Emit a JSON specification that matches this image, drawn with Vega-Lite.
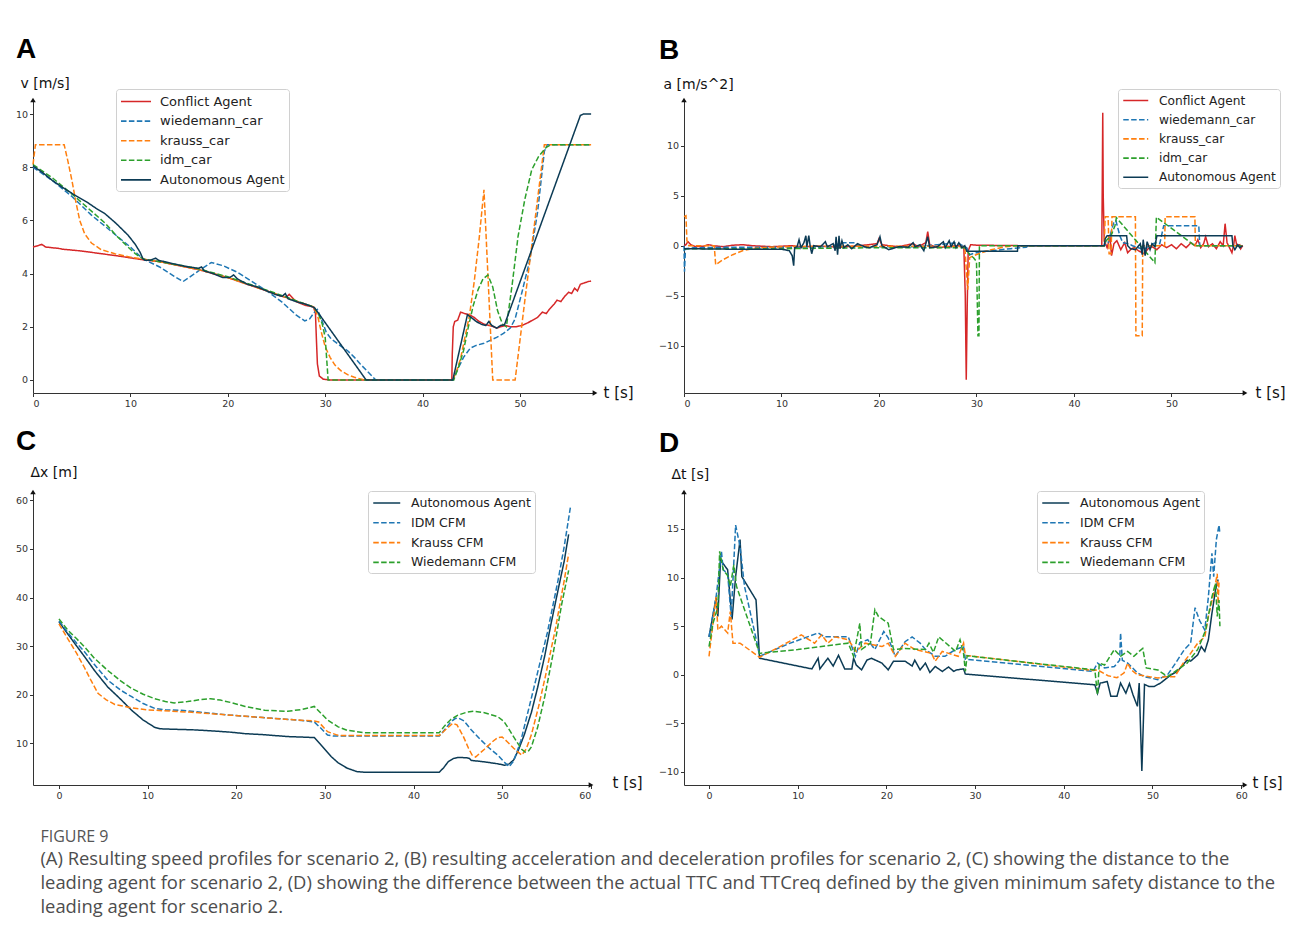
{
"$schema": "https://vega.github.io/schema/vega-lite/v6.json",
"background": "white",
"padding": {"left": 15, "top": 36, "right": 8, "bottom": 8},
"config": {
  "view": {"stroke": null},
  "font": "DejaVu Sans",
  "axis": {"grid": false, "domainColor": "#333", "domainWidth": 1, "tickColor": "#333", "tickSize": 3.5, "labelColor": "#333", "labelFont": "DejaVu Sans", "labelFontSize": 9.5, "labelPadding": 2, "titleFont": "DejaVu Sans", "titleFontWeight": "normal", "titleFontSize": 14, "titleColor": "#111"},
  "legend": {"title": null, "orient": "none", "symbolType": "M-1,0H3", "symbolSize": 225, "symbolStrokeWidth": 1.6, "labelFont": "DejaVu Sans", "labelFontSize": 13, "labelColor": "#222", "fillColor": "white", "strokeColor": "#d0d0d0", "cornerRadius": 3, "padding": 4, "rowPadding": 3.6, "labelOffset": 23}
},
"datasets": {
"A": [
{"s":"Conflict Agent","t":0,"v":5.0},{"s":"Conflict Agent","t":0.5,"v":5.05},{"s":"Conflict Agent","t":0.9,"v":5.1},{"s":"Conflict Agent","t":1.3,"v":5.0},{"s":"Conflict Agent","t":2.6,"v":4.95},{"s":"Conflict Agent","t":3,"v":4.92},{"s":"Conflict Agent","t":5,"v":4.85},{"s":"Conflict Agent","t":7,"v":4.75},{"s":"Conflict Agent","t":9,"v":4.65},{"s":"Conflict Agent","t":11.3,"v":4.52},{"s":"Conflict Agent","t":13,"v":4.45},{"s":"Conflict Agent","t":15,"v":4.3},{"s":"Conflict Agent","t":17,"v":4.15},{"s":"Conflict Agent","t":18,"v":4.05},{"s":"Conflict Agent","t":20,"v":3.85},{"s":"Conflict Agent","t":22,"v":3.6},{"s":"Conflict Agent","t":24,"v":3.35},{"s":"Conflict Agent","t":25.5,"v":3.15},{"s":"Conflict Agent","t":26,"v":3.1},{"s":"Conflict Agent","t":26.3,"v":3.22},{"s":"Conflict Agent","t":27,"v":2.95},{"s":"Conflict Agent","t":28,"v":2.8},{"s":"Conflict Agent","t":28.8,"v":2.75},{"s":"Conflict Agent","t":29,"v":2.5},{"s":"Conflict Agent","t":29.1,"v":1.5},{"s":"Conflict Agent","t":29.2,"v":0.6},{"s":"Conflict Agent","t":29.4,"v":0.15},{"s":"Conflict Agent","t":29.8,"v":0.03},{"s":"Conflict Agent","t":30.5,"v":0},{"s":"Conflict Agent","t":43,"v":0},{"s":"Conflict Agent","t":43.05,"v":1.0},{"s":"Conflict Agent","t":43.15,"v":2.0},{"s":"Conflict Agent","t":43.3,"v":2.2},{"s":"Conflict Agent","t":43.6,"v":2.25},{"s":"Conflict Agent","t":43.9,"v":2.55},{"s":"Conflict Agent","t":44.3,"v":2.5},{"s":"Conflict Agent","t":44.8,"v":2.45},{"s":"Conflict Agent","t":45.3,"v":2.35},{"s":"Conflict Agent","t":45.8,"v":2.2},{"s":"Conflict Agent","t":46.3,"v":2.1},{"s":"Conflict Agent","t":46.8,"v":2.05},{"s":"Conflict Agent","t":47.3,"v":2.0},{"s":"Conflict Agent","t":47.6,"v":1.95},{"s":"Conflict Agent","t":48,"v":2.0},{"s":"Conflict Agent","t":48.5,"v":2.05},{"s":"Conflict Agent","t":49,"v":2.0},{"s":"Conflict Agent","t":49.6,"v":2.0},{"s":"Conflict Agent","t":50.2,"v":2.05},{"s":"Conflict Agent","t":50.8,"v":2.15},{"s":"Conflict Agent","t":51.3,"v":2.25},{"s":"Conflict Agent","t":51.8,"v":2.35},{"s":"Conflict Agent","t":52.3,"v":2.55},{"s":"Conflict Agent","t":52.7,"v":2.5},{"s":"Conflict Agent","t":53,"v":2.65},{"s":"Conflict Agent","t":53.5,"v":2.85},{"s":"Conflict Agent","t":53.8,"v":3.0},{"s":"Conflict Agent","t":54.2,"v":2.95},{"s":"Conflict Agent","t":54.6,"v":3.15},{"s":"Conflict Agent","t":55,"v":3.3},{"s":"Conflict Agent","t":55.3,"v":3.25},{"s":"Conflict Agent","t":55.6,"v":3.45},{"s":"Conflict Agent","t":55.9,"v":3.35},{"s":"Conflict Agent","t":56.2,"v":3.6},{"s":"Conflict Agent","t":56.6,"v":3.65},{"s":"Conflict Agent","t":57,"v":3.7},{"s":"Conflict Agent","t":57.3,"v":3.72},
{"s":"wiedemann_car","t":0,"v":8.0},{"s":"wiedemann_car","t":2,"v":7.5},{"s":"wiedemann_car","t":4,"v":6.9},{"s":"wiedemann_car","t":6,"v":6.2},{"s":"wiedemann_car","t":8,"v":5.6},{"s":"wiedemann_car","t":10,"v":5.0},{"s":"wiedemann_car","t":11.3,"v":4.55},{"s":"wiedemann_car","t":13,"v":4.25},{"s":"wiedemann_car","t":14.5,"v":3.9},{"s":"wiedemann_car","t":15.4,"v":3.7},{"s":"wiedemann_car","t":17,"v":4.1},{"s":"wiedemann_car","t":18.3,"v":4.42},{"s":"wiedemann_car","t":19.5,"v":4.3},{"s":"wiedemann_car","t":21,"v":4.05},{"s":"wiedemann_car","t":22.5,"v":3.7},{"s":"wiedemann_car","t":24,"v":3.35},{"s":"wiedemann_car","t":25.5,"v":2.95},{"s":"wiedemann_car","t":27,"v":2.45},{"s":"wiedemann_car","t":27.9,"v":2.22},{"s":"wiedemann_car","t":28.4,"v":2.3},{"s":"wiedemann_car","t":28.9,"v":2.55},{"s":"wiedemann_car","t":29.2,"v":2.65},{"s":"wiedemann_car","t":29.6,"v":2.3},{"s":"wiedemann_car","t":30.1,"v":1.8},{"s":"wiedemann_car","t":30.6,"v":1.55},{"s":"wiedemann_car","t":31.5,"v":1.3},{"s":"wiedemann_car","t":32.3,"v":1.1},{"s":"wiedemann_car","t":33,"v":0.85},{"s":"wiedemann_car","t":33.6,"v":0.6},{"s":"wiedemann_car","t":34.4,"v":0.3},{"s":"wiedemann_car","t":35.2,"v":0},{"s":"wiedemann_car","t":43.1,"v":0},{"s":"wiedemann_car","t":43.6,"v":0.4},{"s":"wiedemann_car","t":44.2,"v":0.85},{"s":"wiedemann_car","t":44.9,"v":1.2},{"s":"wiedemann_car","t":45.5,"v":1.3},{"s":"wiedemann_car","t":46.3,"v":1.38},{"s":"wiedemann_car","t":47,"v":1.5},{"s":"wiedemann_car","t":47.6,"v":1.6},{"s":"wiedemann_car","t":48.3,"v":1.75},{"s":"wiedemann_car","t":49,"v":1.95},{"s":"wiedemann_car","t":49.5,"v":2.3},{"s":"wiedemann_car","t":50.2,"v":3.3},{"s":"wiedemann_car","t":51,"v":4.5},{"s":"wiedemann_car","t":51.8,"v":6.3},{"s":"wiedemann_car","t":52.5,"v":8.6},{"s":"wiedemann_car","t":52.8,"v":8.85},{"s":"wiedemann_car","t":57.3,"v":8.85},
{"s":"krauss_car","t":0,"v":8.1},{"s":"krauss_car","t":0.25,"v":8.85},{"s":"krauss_car","t":3.2,"v":8.85},{"s":"krauss_car","t":3.6,"v":8.2},{"s":"krauss_car","t":4,"v":7.5},{"s":"krauss_car","t":4.4,"v":6.7},{"s":"krauss_car","t":4.8,"v":6.0},{"s":"krauss_car","t":5.3,"v":5.5},{"s":"krauss_car","t":6,"v":5.15},{"s":"krauss_car","t":7,"v":4.9},{"s":"krauss_car","t":8.4,"v":4.75},{"s":"krauss_car","t":10,"v":4.62},{"s":"krauss_car","t":11.3,"v":4.55},{"s":"krauss_car","t":13,"v":4.45},{"s":"krauss_car","t":15,"v":4.3},{"s":"krauss_car","t":17,"v":4.15},{"s":"krauss_car","t":18,"v":4.05},{"s":"krauss_car","t":20,"v":3.85},{"s":"krauss_car","t":22,"v":3.6},{"s":"krauss_car","t":24,"v":3.35},{"s":"krauss_car","t":26,"v":3.1},{"s":"krauss_car","t":28,"v":2.85},{"s":"krauss_car","t":28.8,"v":2.75},{"s":"krauss_car","t":29.2,"v":2.45},{"s":"krauss_car","t":29.6,"v":1.8},{"s":"krauss_car","t":30,"v":1.25},{"s":"krauss_car","t":30.5,"v":0.85},{"s":"krauss_car","t":31,"v":0.56},{"s":"krauss_car","t":31.6,"v":0.35},{"s":"krauss_car","t":32.3,"v":0.2},{"s":"krauss_car","t":33,"v":0.1},{"s":"krauss_car","t":34,"v":0},{"s":"krauss_car","t":43.1,"v":0},{"s":"krauss_car","t":43.5,"v":0.35},{"s":"krauss_car","t":43.9,"v":0.8},{"s":"krauss_car","t":44.4,"v":1.7},{"s":"krauss_car","t":44.8,"v":2.4},{"s":"krauss_car","t":45.3,"v":3.7},{"s":"krauss_car","t":45.8,"v":5.3},{"s":"krauss_car","t":46.3,"v":7.15},{"s":"krauss_car","t":46.75,"v":3.6},{"s":"krauss_car","t":47.2,"v":0},{"s":"krauss_car","t":49.5,"v":0},{"s":"krauss_car","t":50.5,"v":3.0},{"s":"krauss_car","t":51.5,"v":5.9},{"s":"krauss_car","t":52.5,"v":8.85},{"s":"krauss_car","t":57.3,"v":8.85},
{"s":"idm_car","t":0,"v":8.1},{"s":"idm_car","t":2,"v":7.6},{"s":"idm_car","t":4.3,"v":6.9},{"s":"idm_car","t":6,"v":6.35},{"s":"idm_car","t":7.4,"v":5.9},{"s":"idm_car","t":8.5,"v":5.45},{"s":"idm_car","t":9.75,"v":5.0},{"s":"idm_car","t":10.5,"v":4.75},{"s":"idm_car","t":11.3,"v":4.55},{"s":"idm_car","t":13,"v":4.45},{"s":"idm_car","t":15,"v":4.32},{"s":"idm_car","t":17,"v":4.18},{"s":"idm_car","t":18,"v":4.08},{"s":"idm_car","t":20,"v":3.88},{"s":"idm_car","t":22,"v":3.63},{"s":"idm_car","t":24,"v":3.38},{"s":"idm_car","t":26,"v":3.12},{"s":"idm_car","t":28,"v":2.85},{"s":"idm_car","t":28.8,"v":2.75},{"s":"idm_car","t":29.3,"v":2.5},{"s":"idm_car","t":29.7,"v":2.1},{"s":"idm_car","t":30,"v":1.6},{"s":"idm_car","t":30.15,"v":0.8},{"s":"idm_car","t":30.3,"v":0},{"s":"idm_car","t":43.2,"v":0},{"s":"idm_car","t":43.7,"v":0.5},{"s":"idm_car","t":44.2,"v":1.1},{"s":"idm_car","t":44.7,"v":2.0},{"s":"idm_car","t":45.2,"v":2.8},{"s":"idm_car","t":45.7,"v":3.4},{"s":"idm_car","t":46.2,"v":3.8},{"s":"idm_car","t":46.7,"v":3.95},{"s":"idm_car","t":47.2,"v":3.5},{"s":"idm_car","t":47.7,"v":2.6},{"s":"idm_car","t":48.2,"v":2.1},{"s":"idm_car","t":48.6,"v":2.0},{"s":"idm_car","t":49.2,"v":3.6},{"s":"idm_car","t":49.8,"v":5.4},{"s":"idm_car","t":50.5,"v":6.8},{"s":"idm_car","t":51.2,"v":7.9},{"s":"idm_car","t":51.9,"v":8.4},{"s":"idm_car","t":52.7,"v":8.75},{"s":"idm_car","t":53.2,"v":8.85},{"s":"idm_car","t":57.3,"v":8.85},
{"s":"Autonomous Agent","t":0,"v":8.05},{"s":"Autonomous Agent","t":1,"v":7.8},{"s":"Autonomous Agent","t":2,"v":7.5},{"s":"Autonomous Agent","t":3,"v":7.25},{"s":"Autonomous Agent","t":4.3,"v":6.95},{"s":"Autonomous Agent","t":5.5,"v":6.7},{"s":"Autonomous Agent","t":6.5,"v":6.45},{"s":"Autonomous Agent","t":7.4,"v":6.25},{"s":"Autonomous Agent","t":8.5,"v":5.9},{"s":"Autonomous Agent","t":9.75,"v":5.45},{"s":"Autonomous Agent","t":10.5,"v":5.1},{"s":"Autonomous Agent","t":11,"v":4.8},{"s":"Autonomous Agent","t":11.3,"v":4.55},{"s":"Autonomous Agent","t":11.5,"v":4.5},{"s":"Autonomous Agent","t":12,"v":4.5},{"s":"Autonomous Agent","t":12.6,"v":4.58},{"s":"Autonomous Agent","t":12.9,"v":4.5},{"s":"Autonomous Agent","t":13.5,"v":4.45},{"s":"Autonomous Agent","t":15,"v":4.32},{"s":"Autonomous Agent","t":16,"v":4.25},{"s":"Autonomous Agent","t":17,"v":4.2},{"s":"Autonomous Agent","t":17.3,"v":4.25},{"s":"Autonomous Agent","t":17.6,"v":4.1},{"s":"Autonomous Agent","t":18.5,"v":4.0},{"s":"Autonomous Agent","t":19.5,"v":3.85},{"s":"Autonomous Agent","t":20.2,"v":3.85},{"s":"Autonomous Agent","t":20.6,"v":3.95},{"s":"Autonomous Agent","t":21,"v":3.8},{"s":"Autonomous Agent","t":22,"v":3.6},{"s":"Autonomous Agent","t":23,"v":3.5},{"s":"Autonomous Agent","t":24,"v":3.35},{"s":"Autonomous Agent","t":25,"v":3.2},{"s":"Autonomous Agent","t":25.6,"v":3.15},{"s":"Autonomous Agent","t":25.9,"v":3.25},{"s":"Autonomous Agent","t":26.2,"v":3.05},{"s":"Autonomous Agent","t":27,"v":2.95},{"s":"Autonomous Agent","t":28,"v":2.85},{"s":"Autonomous Agent","t":28.9,"v":2.72},{"s":"Autonomous Agent","t":34.2,"v":0},{"s":"Autonomous Agent","t":43.1,"v":0},{"s":"Autonomous Agent","t":44.6,"v":2.45},{"s":"Autonomous Agent","t":45,"v":2.35},{"s":"Autonomous Agent","t":45.5,"v":2.2},{"s":"Autonomous Agent","t":46,"v":2.1},{"s":"Autonomous Agent","t":46.5,"v":2.05},{"s":"Autonomous Agent","t":46.8,"v":2.2},{"s":"Autonomous Agent","t":47.1,"v":2.05},{"s":"Autonomous Agent","t":47.6,"v":1.95},{"s":"Autonomous Agent","t":48,"v":2.05},{"s":"Autonomous Agent","t":48.4,"v":2.07},{"s":"Autonomous Agent","t":56.2,"v":9.95},{"s":"Autonomous Agent","t":56.5,"v":10.0},{"s":"Autonomous Agent","t":57.3,"v":10.0}
],
"B": [
{"s":"Conflict Agent","t":0,"a":0},{"s":"Conflict Agent","t":0.2,"a":0.1},{"s":"Conflict Agent","t":0.4,"a":0.4},{"s":"Conflict Agent","t":0.7,"a":0.1},{"s":"Conflict Agent","t":1.2,"a":-0.1},{"s":"Conflict Agent","t":2,"a":-0.05},{"s":"Conflict Agent","t":2.5,"a":0.1},{"s":"Conflict Agent","t":3,"a":0},{"s":"Conflict Agent","t":4,"a":-0.1},{"s":"Conflict Agent","t":5,"a":0.05},{"s":"Conflict Agent","t":6,"a":0.1},{"s":"Conflict Agent","t":7,"a":0},{"s":"Conflict Agent","t":8,"a":-0.05},{"s":"Conflict Agent","t":9,"a":-0.1},{"s":"Conflict Agent","t":11,"a":0},{"s":"Conflict Agent","t":12,"a":-0.1},{"s":"Conflict Agent","t":14,"a":-0.05},{"s":"Conflict Agent","t":16,"a":-0.15},{"s":"Conflict Agent","t":18,"a":0},{"s":"Conflict Agent","t":19.8,"a":0.2},{"s":"Conflict Agent","t":20,"a":0.7},{"s":"Conflict Agent","t":20.3,"a":0.1},{"s":"Conflict Agent","t":21,"a":0},{"s":"Conflict Agent","t":22,"a":-0.1},{"s":"Conflict Agent","t":23.5,"a":0.2},{"s":"Conflict Agent","t":24,"a":-0.1},{"s":"Conflict Agent","t":24.8,"a":0.3},{"s":"Conflict Agent","t":25,"a":1.4},{"s":"Conflict Agent","t":25.2,"a":0.1},{"s":"Conflict Agent","t":26,"a":-0.2},{"s":"Conflict Agent","t":27,"a":-0.1},{"s":"Conflict Agent","t":28,"a":0},{"s":"Conflict Agent","t":28.7,"a":-0.1},{"s":"Conflict Agent","t":28.85,"a":-5},{"s":"Conflict Agent","t":28.95,"a":-13.4},{"s":"Conflict Agent","t":29.05,"a":-6},{"s":"Conflict Agent","t":29.15,"a":-0.5},{"s":"Conflict Agent","t":29.4,"a":0.1},{"s":"Conflict Agent","t":30,"a":0.05},{"s":"Conflict Agent","t":35,"a":0},{"s":"Conflict Agent","t":42.85,"a":0},{"s":"Conflict Agent","t":42.9,"a":6},{"s":"Conflict Agent","t":42.95,"a":13.3},{"s":"Conflict Agent","t":43.0,"a":5},{"s":"Conflict Agent","t":43.1,"a":0.5},{"s":"Conflict Agent","t":43.4,"a":-0.2},{"s":"Conflict Agent","t":43.7,"a":0.9},{"s":"Conflict Agent","t":43.85,"a":-1.0},{"s":"Conflict Agent","t":44.1,"a":0.2},{"s":"Conflict Agent","t":44.4,"a":0.5},{"s":"Conflict Agent","t":44.8,"a":-0.4},{"s":"Conflict Agent","t":45.2,"a":0.3},{"s":"Conflict Agent","t":45.5,"a":-0.7},{"s":"Conflict Agent","t":45.9,"a":-0.3},{"s":"Conflict Agent","t":46.2,"a":-0.2},{"s":"Conflict Agent","t":46.6,"a":-0.5},{"s":"Conflict Agent","t":47.2,"a":-0.8},{"s":"Conflict Agent","t":47.6,"a":-0.3},{"s":"Conflict Agent","t":48,"a":-0.1},{"s":"Conflict Agent","t":48.5,"a":-0.4},{"s":"Conflict Agent","t":49,"a":0.1},{"s":"Conflict Agent","t":49.5,"a":-0.2},{"s":"Conflict Agent","t":50,"a":0.1},{"s":"Conflict Agent","t":50.5,"a":-0.3},{"s":"Conflict Agent","t":51,"a":0.2},{"s":"Conflict Agent","t":51.5,"a":-0.2},{"s":"Conflict Agent","t":52,"a":0.3},{"s":"Conflict Agent","t":52.4,"a":0},{"s":"Conflict Agent","t":52.7,"a":0.6},{"s":"Conflict Agent","t":53,"a":-0.2},{"s":"Conflict Agent","t":53.3,"a":0.2},{"s":"Conflict Agent","t":53.5,"a":0.9},{"s":"Conflict Agent","t":53.8,"a":-0.1},{"s":"Conflict Agent","t":54.2,"a":0.2},{"s":"Conflict Agent","t":54.6,"a":-0.3},{"s":"Conflict Agent","t":55,"a":0.4},{"s":"Conflict Agent","t":55.3,"a":0},{"s":"Conflict Agent","t":55.5,"a":2.2},{"s":"Conflict Agent","t":55.7,"a":0.3},{"s":"Conflict Agent","t":56,"a":-0.3},{"s":"Conflict Agent","t":56.2,"a":-0.7},{"s":"Conflict Agent","t":56.4,"a":0.2},{"s":"Conflict Agent","t":56.5,"a":1.0},{"s":"Conflict Agent","t":56.7,"a":0},{"s":"Conflict Agent","t":57,"a":0.1},{"s":"Conflict Agent","t":57.1,"a":-0.3},{"s":"Conflict Agent","t":57.3,"a":0},
{"s":"wiedemann_car","t":0,"a":0},{"s":"wiedemann_car","t":0.05,"a":-2.6},{"s":"wiedemann_car","t":0.15,"a":-0.3},{"s":"wiedemann_car","t":1,"a":-0.2},{"s":"wiedemann_car","t":5,"a":-0.15},{"s":"wiedemann_car","t":11.5,"a":-0.15},{"s":"wiedemann_car","t":15,"a":-0.1},{"s":"wiedemann_car","t":16.2,"a":0.3},{"s":"wiedemann_car","t":17.5,"a":0.3},{"s":"wiedemann_car","t":18,"a":-0.1},{"s":"wiedemann_car","t":24,"a":-0.1},{"s":"wiedemann_car","t":28,"a":0.3},{"s":"wiedemann_car","t":29,"a":-0.2},{"s":"wiedemann_car","t":29.3,"a":-0.9},{"s":"wiedemann_car","t":29.6,"a":-0.8},{"s":"wiedemann_car","t":30.5,"a":-0.6},{"s":"wiedemann_car","t":32,"a":-0.45},{"s":"wiedemann_car","t":33.5,"a":-0.3},{"s":"wiedemann_car","t":35.1,"a":-0.15},{"s":"wiedemann_car","t":35.3,"a":0},{"s":"wiedemann_car","t":43.1,"a":0},{"s":"wiedemann_car","t":43.5,"a":0.3},{"s":"wiedemann_car","t":44.1,"a":2.4},{"s":"wiedemann_car","t":44.3,"a":2.5},{"s":"wiedemann_car","t":44.7,"a":1.0},{"s":"wiedemann_car","t":45,"a":0.3},{"s":"wiedemann_car","t":45.6,"a":0.2},{"s":"wiedemann_car","t":46,"a":0},{"s":"wiedemann_car","t":46.6,"a":-0.2},{"s":"wiedemann_car","t":47.2,"a":-0.4},{"s":"wiedemann_car","t":47.8,"a":0.1},{"s":"wiedemann_car","t":48.4,"a":0.3},{"s":"wiedemann_car","t":48.8,"a":0.2},{"s":"wiedemann_car","t":49.2,"a":2.0},{"s":"wiedemann_car","t":52.8,"a":2.0},{"s":"wiedemann_car","t":52.9,"a":0},{"s":"wiedemann_car","t":57.3,"a":0},
{"s":"krauss_car","t":0,"a":2.9},{"s":"krauss_car","t":0.2,"a":3.0},{"s":"krauss_car","t":0.3,"a":0.5},{"s":"krauss_car","t":0.5,"a":0},{"s":"krauss_car","t":3.1,"a":0},{"s":"krauss_car","t":3.25,"a":-1.9},{"s":"krauss_car","t":4,"a":-1.4},{"s":"krauss_car","t":5,"a":-0.9},{"s":"krauss_car","t":6,"a":-0.5},{"s":"krauss_car","t":7,"a":-0.3},{"s":"krauss_car","t":8,"a":-0.2},{"s":"krauss_car","t":10,"a":-0.1},{"s":"krauss_car","t":15,"a":-0.05},{"s":"krauss_car","t":25,"a":-0.05},{"s":"krauss_car","t":28.8,"a":-0.1},{"s":"krauss_car","t":29.1,"a":-4.4},{"s":"krauss_car","t":29.3,"a":-1.2},{"s":"krauss_car","t":29.7,"a":-1.0},{"s":"krauss_car","t":30.5,"a":-0.7},{"s":"krauss_car","t":31.5,"a":-0.4},{"s":"krauss_car","t":33,"a":-0.1},{"s":"krauss_car","t":34,"a":0},{"s":"krauss_car","t":43.1,"a":0},{"s":"krauss_car","t":43.2,"a":2.9},{"s":"krauss_car","t":43.5,"a":2.9},{"s":"krauss_car","t":43.6,"a":-0.8},{"s":"krauss_car","t":43.8,"a":-0.8},{"s":"krauss_car","t":43.9,"a":2.9},{"s":"krauss_car","t":46.3,"a":2.9},{"s":"krauss_car","t":46.35,"a":-9.0},{"s":"krauss_car","t":47.0,"a":-9.0},{"s":"krauss_car","t":47.05,"a":0},{"s":"krauss_car","t":49.3,"a":0},{"s":"krauss_car","t":49.35,"a":2.9},{"s":"krauss_car","t":52.4,"a":2.9},{"s":"krauss_car","t":52.45,"a":0},{"s":"krauss_car","t":57.3,"a":0},
{"s":"idm_car","t":0,"a":-0.3},{"s":"idm_car","t":10,"a":-0.3},{"s":"idm_car","t":15,"a":-0.25},{"s":"idm_car","t":20,"a":-0.2},{"s":"idm_car","t":28.8,"a":-0.2},{"s":"idm_car","t":29.3,"a":-0.9},{"s":"idm_car","t":29.7,"a":-1.2},{"s":"idm_car","t":30,"a":-1.6},{"s":"idm_car","t":30.15,"a":-9.0},{"s":"idm_car","t":30.25,"a":-9.0},{"s":"idm_car","t":30.3,"a":0},{"s":"idm_car","t":43.1,"a":0},{"s":"idm_car","t":43.3,"a":0.5},{"s":"idm_car","t":43.8,"a":1.0},{"s":"idm_car","t":44.2,"a":2.0},{"s":"idm_car","t":44.35,"a":2.8},{"s":"idm_car","t":48.3,"a":-1.7},{"s":"idm_car","t":48.45,"a":2.85},{"s":"idm_car","t":52.4,"a":0},{"s":"idm_car","t":57.3,"a":0},
{"s":"Autonomous Agent","t":0,"a":-0.3},{"s":"Autonomous Agent","t":5,"a":-0.35},{"s":"Autonomous Agent","t":10,"a":-0.35},{"s":"Autonomous Agent","t":10.8,"a":-0.5},{"s":"Autonomous Agent","t":11.1,"a":-1.0},{"s":"Autonomous Agent","t":11.25,"a":-2.0},{"s":"Autonomous Agent","t":11.35,"a":-0.2},{"s":"Autonomous Agent","t":11.6,"a":-0.1},{"s":"Autonomous Agent","t":11.8,"a":0.6},{"s":"Autonomous Agent","t":12,"a":-0.2},{"s":"Autonomous Agent","t":12.3,"a":0.3},{"s":"Autonomous Agent","t":12.5,"a":1.0},{"s":"Autonomous Agent","t":12.6,"a":-0.1},{"s":"Autonomous Agent","t":12.8,"a":1.0},{"s":"Autonomous Agent","t":12.95,"a":-0.1},{"s":"Autonomous Agent","t":13.1,"a":-0.8},{"s":"Autonomous Agent","t":13.3,"a":0},{"s":"Autonomous Agent","t":14,"a":-0.1},{"s":"Autonomous Agent","t":14.5,"a":0.4},{"s":"Autonomous Agent","t":14.7,"a":-0.1},{"s":"Autonomous Agent","t":15.3,"a":0.2},{"s":"Autonomous Agent","t":15.5,"a":-0.5},{"s":"Autonomous Agent","t":15.6,"a":0.9},{"s":"Autonomous Agent","t":15.75,"a":-0.9},{"s":"Autonomous Agent","t":15.9,"a":1.0},{"s":"Autonomous Agent","t":16,"a":-0.3},{"s":"Autonomous Agent","t":16.2,"a":0.5},{"s":"Autonomous Agent","t":16.4,"a":-0.2},{"s":"Autonomous Agent","t":16.8,"a":0.1},{"s":"Autonomous Agent","t":17.2,"a":-0.3},{"s":"Autonomous Agent","t":17.8,"a":0.2},{"s":"Autonomous Agent","t":18.5,"a":-0.1},{"s":"Autonomous Agent","t":19,"a":-0.2},{"s":"Autonomous Agent","t":19.8,"a":0.1},{"s":"Autonomous Agent","t":20.1,"a":0.9},{"s":"Autonomous Agent","t":20.3,"a":0},{"s":"Autonomous Agent","t":21,"a":-0.4},{"s":"Autonomous Agent","t":22,"a":-0.1},{"s":"Autonomous Agent","t":23,"a":-0.15},{"s":"Autonomous Agent","t":23.5,"a":0.3},{"s":"Autonomous Agent","t":23.7,"a":-0.1},{"s":"Autonomous Agent","t":24.2,"a":0.1},{"s":"Autonomous Agent","t":24.6,"a":-0.5},{"s":"Autonomous Agent","t":25,"a":0.9},{"s":"Autonomous Agent","t":25.2,"a":-0.2},{"s":"Autonomous Agent","t":26,"a":-0.1},{"s":"Autonomous Agent","t":26.6,"a":0.4},{"s":"Autonomous Agent","t":26.8,"a":-0.2},{"s":"Autonomous Agent","t":27.2,"a":0.5},{"s":"Autonomous Agent","t":27.4,"a":-0.1},{"s":"Autonomous Agent","t":27.7,"a":0.4},{"s":"Autonomous Agent","t":27.9,"a":-0.2},{"s":"Autonomous Agent","t":28.2,"a":0.3},{"s":"Autonomous Agent","t":28.5,"a":-0.2},{"s":"Autonomous Agent","t":28.8,"a":0},{"s":"Autonomous Agent","t":29,"a":-0.55},{"s":"Autonomous Agent","t":34.2,"a":-0.55},{"s":"Autonomous Agent","t":34.25,"a":0},{"s":"Autonomous Agent","t":43.1,"a":0},{"s":"Autonomous Agent","t":43.2,"a":0.7},{"s":"Autonomous Agent","t":43.4,"a":1.0},{"s":"Autonomous Agent","t":45.4,"a":1.0},{"s":"Autonomous Agent","t":45.5,"a":0},{"s":"Autonomous Agent","t":45.8,"a":-0.3},{"s":"Autonomous Agent","t":46.3,"a":-0.4},{"s":"Autonomous Agent","t":46.8,"a":0.2},{"s":"Autonomous Agent","t":47,"a":-0.9},{"s":"Autonomous Agent","t":47.1,"a":0.6},{"s":"Autonomous Agent","t":47.3,"a":-1.0},{"s":"Autonomous Agent","t":47.5,"a":0.4},{"s":"Autonomous Agent","t":47.8,"a":-0.4},{"s":"Autonomous Agent","t":48,"a":0.2},{"s":"Autonomous Agent","t":48.3,"a":-0.1},{"s":"Autonomous Agent","t":48.5,"a":1.0},{"s":"Autonomous Agent","t":56.2,"a":1.0},{"s":"Autonomous Agent","t":56.3,"a":0},{"s":"Autonomous Agent","t":56.5,"a":-0.4},{"s":"Autonomous Agent","t":56.8,"a":0.1},{"s":"Autonomous Agent","t":57,"a":-0.2},{"s":"Autonomous Agent","t":57.3,"a":0}
],
"C": [
{"s":"Autonomous Agent","t":0,"dx":35.0},{"s":"Autonomous Agent","t":1,"dx":32.5},{"s":"Autonomous Agent","t":2,"dx":30.0},{"s":"Autonomous Agent","t":2.9,"dx":27.8},{"s":"Autonomous Agent","t":4,"dx":25.0},{"s":"Autonomous Agent","t":5.5,"dx":21.6},{"s":"Autonomous Agent","t":7,"dx":19.0},{"s":"Autonomous Agent","t":8.2,"dx":16.8},{"s":"Autonomous Agent","t":9.5,"dx":14.8},{"s":"Autonomous Agent","t":10.8,"dx":13.3},{"s":"Autonomous Agent","t":11.4,"dx":13.0},{"s":"Autonomous Agent","t":13,"dx":12.9},{"s":"Autonomous Agent","t":15,"dx":12.8},{"s":"Autonomous Agent","t":17,"dx":12.6},{"s":"Autonomous Agent","t":19.4,"dx":12.3},{"s":"Autonomous Agent","t":21,"dx":12.0},{"s":"Autonomous Agent","t":23,"dx":11.8},{"s":"Autonomous Agent","t":25.8,"dx":11.4},{"s":"Autonomous Agent","t":28.8,"dx":11.2},{"s":"Autonomous Agent","t":29.5,"dx":9.8},{"s":"Autonomous Agent","t":30.7,"dx":7.3},{"s":"Autonomous Agent","t":31.5,"dx":6.0},{"s":"Autonomous Agent","t":32.5,"dx":4.9},{"s":"Autonomous Agent","t":33.6,"dx":4.2},{"s":"Autonomous Agent","t":34.5,"dx":4.05},{"s":"Autonomous Agent","t":42.9,"dx":4.05},{"s":"Autonomous Agent","t":43.4,"dx":5.0},{"s":"Autonomous Agent","t":43.9,"dx":6.2},{"s":"Autonomous Agent","t":44.5,"dx":6.9},{"s":"Autonomous Agent","t":45,"dx":7.1},{"s":"Autonomous Agent","t":46,"dx":7.05},{"s":"Autonomous Agent","t":46.3,"dx":6.9},{"s":"Autonomous Agent","t":46.5,"dx":6.5},{"s":"Autonomous Agent","t":48,"dx":6.2},{"s":"Autonomous Agent","t":49.5,"dx":5.8},{"s":"Autonomous Agent","t":50.3,"dx":5.5},{"s":"Autonomous Agent","t":50.8,"dx":5.8},{"s":"Autonomous Agent","t":51.3,"dx":6.6},{"s":"Autonomous Agent","t":51.8,"dx":8.5},{"s":"Autonomous Agent","t":52.5,"dx":11.8},{"s":"Autonomous Agent","t":53.3,"dx":16.4},{"s":"Autonomous Agent","t":54,"dx":21.5},{"s":"Autonomous Agent","t":54.8,"dx":28.0},{"s":"Autonomous Agent","t":55.5,"dx":34.5},{"s":"Autonomous Agent","t":56.3,"dx":41.5},{"s":"Autonomous Agent","t":57,"dx":47.5},{"s":"Autonomous Agent","t":57.5,"dx":53.0},
{"s":"IDM CFM","t":0,"dx":35.2},{"s":"IDM CFM","t":1,"dx":32.8},{"s":"IDM CFM","t":2,"dx":30.6},{"s":"IDM CFM","t":2.9,"dx":28.8},{"s":"IDM CFM","t":4,"dx":26.2},{"s":"IDM CFM","t":5.5,"dx":23.0},{"s":"IDM CFM","t":7,"dx":20.9},{"s":"IDM CFM","t":8.2,"dx":19.6},{"s":"IDM CFM","t":9.5,"dx":18.2},{"s":"IDM CFM","t":10.8,"dx":17.2},{"s":"IDM CFM","t":12,"dx":16.9},{"s":"IDM CFM","t":13.7,"dx":16.8},{"s":"IDM CFM","t":16,"dx":16.4},{"s":"IDM CFM","t":19.4,"dx":15.8},{"s":"IDM CFM","t":23,"dx":15.3},{"s":"IDM CFM","t":26.9,"dx":14.8},{"s":"IDM CFM","t":28.8,"dx":14.4},{"s":"IDM CFM","t":29.5,"dx":13.2},{"s":"IDM CFM","t":30.3,"dx":11.7},{"s":"IDM CFM","t":31,"dx":11.5},{"s":"IDM CFM","t":42.9,"dx":11.5},{"s":"IDM CFM","t":43.6,"dx":13.0},{"s":"IDM CFM","t":44.2,"dx":14.4},{"s":"IDM CFM","t":44.7,"dx":15.1},{"s":"IDM CFM","t":45.1,"dx":15.2},{"s":"IDM CFM","t":45.7,"dx":14.6},{"s":"IDM CFM","t":46.5,"dx":12.8},{"s":"IDM CFM","t":47.6,"dx":10.7},{"s":"IDM CFM","t":48.5,"dx":9.1},{"s":"IDM CFM","t":49.5,"dx":7.6},{"s":"IDM CFM","t":50.2,"dx":6.2},{"s":"IDM CFM","t":50.8,"dx":5.2},{"s":"IDM CFM","t":51.3,"dx":6.4},{"s":"IDM CFM","t":52.1,"dx":10.5},{"s":"IDM CFM","t":52.9,"dx":16.4},{"s":"IDM CFM","t":54,"dx":24.6},{"s":"IDM CFM","t":55.1,"dx":32.8},{"s":"IDM CFM","t":56.3,"dx":43.5},{"s":"IDM CFM","t":57,"dx":50.5},{"s":"IDM CFM","t":57.7,"dx":58.6},
{"s":"Krauss CFM","t":0,"dx":34.6},{"s":"Krauss CFM","t":1,"dx":31.5},{"s":"Krauss CFM","t":2,"dx":28.5},{"s":"Krauss CFM","t":2.9,"dx":25.5},{"s":"Krauss CFM","t":3.6,"dx":23.0},{"s":"Krauss CFM","t":4.4,"dx":20.3},{"s":"Krauss CFM","t":5.3,"dx":19.0},{"s":"Krauss CFM","t":6.3,"dx":18.0},{"s":"Krauss CFM","t":8.2,"dx":17.3},{"s":"Krauss CFM","t":10,"dx":16.9},{"s":"Krauss CFM","t":11.9,"dx":16.7},{"s":"Krauss CFM","t":15,"dx":16.4},{"s":"Krauss CFM","t":19.4,"dx":15.8},{"s":"Krauss CFM","t":23,"dx":15.3},{"s":"Krauss CFM","t":26,"dx":14.9},{"s":"Krauss CFM","t":28.8,"dx":14.6},{"s":"Krauss CFM","t":29.3,"dx":14.4},{"s":"Krauss CFM","t":30.3,"dx":12.4},{"s":"Krauss CFM","t":31.4,"dx":11.7},{"s":"Krauss CFM","t":32,"dx":11.6},{"s":"Krauss CFM","t":42.9,"dx":11.6},{"s":"Krauss CFM","t":43.6,"dx":12.8},{"s":"Krauss CFM","t":44.4,"dx":14.1},{"s":"Krauss CFM","t":44.9,"dx":13.8},{"s":"Krauss CFM","t":45.6,"dx":11.5},{"s":"Krauss CFM","t":46.2,"dx":9.0},{"s":"Krauss CFM","t":46.6,"dx":7.6},{"s":"Krauss CFM","t":47,"dx":7.2},{"s":"Krauss CFM","t":48,"dx":8.8},{"s":"Krauss CFM","t":49,"dx":10.5},{"s":"Krauss CFM","t":49.5,"dx":11.2},{"s":"Krauss CFM","t":50,"dx":11.3},{"s":"Krauss CFM","t":50.6,"dx":10.3},{"s":"Krauss CFM","t":51.3,"dx":9.0},{"s":"Krauss CFM","t":51.8,"dx":8.2},{"s":"Krauss CFM","t":52.2,"dx":7.6},{"s":"Krauss CFM","t":52.7,"dx":8.8},{"s":"Krauss CFM","t":53.3,"dx":11.8},{"s":"Krauss CFM","t":54.1,"dx":17.5},{"s":"Krauss CFM","t":54.9,"dx":24.0},{"s":"Krauss CFM","t":56,"dx":33.5},{"s":"Krauss CFM","t":57,"dx":43.5},{"s":"Krauss CFM","t":57.5,"dx":49.0},
{"s":"Wiedemann CFM","t":0,"dx":35.6},{"s":"Wiedemann CFM","t":1,"dx":33.3},{"s":"Wiedemann CFM","t":2,"dx":31.5},{"s":"Wiedemann CFM","t":2.9,"dx":29.8},{"s":"Wiedemann CFM","t":4,"dx":27.5},{"s":"Wiedemann CFM","t":5.5,"dx":25.0},{"s":"Wiedemann CFM","t":7,"dx":22.8},{"s":"Wiedemann CFM","t":8.2,"dx":21.3},{"s":"Wiedemann CFM","t":9.5,"dx":20.1},{"s":"Wiedemann CFM","t":10.8,"dx":19.2},{"s":"Wiedemann CFM","t":12,"dx":18.6},{"s":"Wiedemann CFM","t":13,"dx":18.3},{"s":"Wiedemann CFM","t":14.5,"dx":18.6},{"s":"Wiedemann CFM","t":16,"dx":19.0},{"s":"Wiedemann CFM","t":17.1,"dx":19.2},{"s":"Wiedemann CFM","t":18.2,"dx":18.9},{"s":"Wiedemann CFM","t":19.4,"dx":18.4},{"s":"Wiedemann CFM","t":21,"dx":17.6},{"s":"Wiedemann CFM","t":23.2,"dx":16.8},{"s":"Wiedemann CFM","t":25.8,"dx":16.6},{"s":"Wiedemann CFM","t":27.5,"dx":17.0},{"s":"Wiedemann CFM","t":28.8,"dx":17.6},{"s":"Wiedemann CFM","t":29.5,"dx":16.3},{"s":"Wiedemann CFM","t":30.3,"dx":14.8},{"s":"Wiedemann CFM","t":31.5,"dx":13.4},{"s":"Wiedemann CFM","t":32.5,"dx":12.7},{"s":"Wiedemann CFM","t":34.4,"dx":12.2},{"s":"Wiedemann CFM","t":42.9,"dx":12.2},{"s":"Wiedemann CFM","t":43.5,"dx":13.6},{"s":"Wiedemann CFM","t":44.2,"dx":14.9},{"s":"Wiedemann CFM","t":45,"dx":15.8},{"s":"Wiedemann CFM","t":46,"dx":16.4},{"s":"Wiedemann CFM","t":46.8,"dx":16.6},{"s":"Wiedemann CFM","t":48,"dx":16.3},{"s":"Wiedemann CFM","t":49.5,"dx":15.5},{"s":"Wiedemann CFM","t":50.2,"dx":14.5},{"s":"Wiedemann CFM","t":50.6,"dx":13.4},{"s":"Wiedemann CFM","t":51.2,"dx":11.6},{"s":"Wiedemann CFM","t":51.8,"dx":9.9},{"s":"Wiedemann CFM","t":52.2,"dx":8.8},{"s":"Wiedemann CFM","t":52.6,"dx":8.2},{"s":"Wiedemann CFM","t":53,"dx":8.5},{"s":"Wiedemann CFM","t":53.3,"dx":9.3},{"s":"Wiedemann CFM","t":54,"dx":13.3},{"s":"Wiedemann CFM","t":54.8,"dx":19.6},{"s":"Wiedemann CFM","t":55.8,"dx":29.0},{"s":"Wiedemann CFM","t":56.7,"dx":38.5},{"s":"Wiedemann CFM","t":57.5,"dx":45.6}
],
"D": [
{"s":"Autonomous Agent","t":0,"dt":3.9},{"s":"Autonomous Agent","t":0.8,"dt":7.9},{"s":"Autonomous Agent","t":1.0,"dt":6.0},{"s":"Autonomous Agent","t":1.3,"dt":11.8},{"s":"Autonomous Agent","t":2.1,"dt":10.8},{"s":"Autonomous Agent","t":2.6,"dt":5.7},{"s":"Autonomous Agent","t":3.0,"dt":10.1},{"s":"Autonomous Agent","t":3.5,"dt":13.9},{"s":"Autonomous Agent","t":3.7,"dt":10.1},{"s":"Autonomous Agent","t":5.3,"dt":7.7},{"s":"Autonomous Agent","t":5.7,"dt":1.7},{"s":"Autonomous Agent","t":11.6,"dt":0.6},{"s":"Autonomous Agent","t":12.3,"dt":1.7},{"s":"Autonomous Agent","t":12.5,"dt":0.6},{"s":"Autonomous Agent","t":13.4,"dt":1.7},{"s":"Autonomous Agent","t":14.0,"dt":0.9},{"s":"Autonomous Agent","t":14.6,"dt":2.0},{"s":"Autonomous Agent","t":15.3,"dt":0.6},{"s":"Autonomous Agent","t":16.1,"dt":0.6},{"s":"Autonomous Agent","t":16.3,"dt":1.7},{"s":"Autonomous Agent","t":16.6,"dt":1.0},{"s":"Autonomous Agent","t":17.2,"dt":0.5},{"s":"Autonomous Agent","t":17.8,"dt":1.5},{"s":"Autonomous Agent","t":18.3,"dt":1.7},{"s":"Autonomous Agent","t":19.5,"dt":1.2},{"s":"Autonomous Agent","t":20.2,"dt":0.5},{"s":"Autonomous Agent","t":20.8,"dt":1.4},{"s":"Autonomous Agent","t":22.1,"dt":1.4},{"s":"Autonomous Agent","t":22.9,"dt":0.9},{"s":"Autonomous Agent","t":23.2,"dt":1.5},{"s":"Autonomous Agent","t":23.8,"dt":0.5},{"s":"Autonomous Agent","t":24.4,"dt":1.2},{"s":"Autonomous Agent","t":24.9,"dt":0.24},{"s":"Autonomous Agent","t":25.5,"dt":0.86},{"s":"Autonomous Agent","t":26.3,"dt":0.34},{"s":"Autonomous Agent","t":27,"dt":0.8},{"s":"Autonomous Agent","t":27.6,"dt":0.34},{"s":"Autonomous Agent","t":27.9,"dt":0.5},{"s":"Autonomous Agent","t":28.7,"dt":0.6},{"s":"Autonomous Agent","t":28.9,"dt":0.07},{"s":"Autonomous Agent","t":43.5,"dt":-1.03},{"s":"Autonomous Agent","t":43.8,"dt":-1.9},{"s":"Autonomous Agent","t":44.1,"dt":-0.86},{"s":"Autonomous Agent","t":44.9,"dt":-0.7},{"s":"Autonomous Agent","t":45.3,"dt":-2.2},{"s":"Autonomous Agent","t":46,"dt":-2.2},{"s":"Autonomous Agent","t":46.4,"dt":-0.86},{"s":"Autonomous Agent","t":47,"dt":-1.9},{"s":"Autonomous Agent","t":47.4,"dt":-0.9},{"s":"Autonomous Agent","t":47.8,"dt":-2.05},{"s":"Autonomous Agent","t":48.3,"dt":-3.25},{"s":"Autonomous Agent","t":48.5,"dt":-0.86},{"s":"Autonomous Agent","t":48.8,"dt":-9.9},{"s":"Autonomous Agent","t":49.1,"dt":-1.0},{"s":"Autonomous Agent","t":49.6,"dt":-1.2},{"s":"Autonomous Agent","t":50.2,"dt":-1.2},{"s":"Autonomous Agent","t":50.9,"dt":-0.86},{"s":"Autonomous Agent","t":52.1,"dt":0},{"s":"Autonomous Agent","t":52.8,"dt":0.34},{"s":"Autonomous Agent","t":53.6,"dt":1.2},{"s":"Autonomous Agent","t":53.9,"dt":1.5},{"s":"Autonomous Agent","t":54.3,"dt":1.4},{"s":"Autonomous Agent","t":55.1,"dt":2.05},{"s":"Autonomous Agent","t":55.5,"dt":2.9},{"s":"Autonomous Agent","t":55.9,"dt":2.4},{"s":"Autonomous Agent","t":56.3,"dt":3.6},{"s":"Autonomous Agent","t":56.7,"dt":6.3},{"s":"Autonomous Agent","t":57.1,"dt":8.7},{"s":"Autonomous Agent","t":57.4,"dt":9.8},
{"s":"IDM CFM","t":0,"dt":3.9},{"s":"IDM CFM","t":0.8,"dt":8.0},{"s":"IDM CFM","t":1.4,"dt":12.7},{"s":"IDM CFM","t":1.6,"dt":10.8},{"s":"IDM CFM","t":2.1,"dt":10.4},{"s":"IDM CFM","t":2.5,"dt":6.0},{"s":"IDM CFM","t":3.0,"dt":15.4},{"s":"IDM CFM","t":3.5,"dt":13.2},{"s":"IDM CFM","t":4.0,"dt":9.1},{"s":"IDM CFM","t":5.5,"dt":2.9},{"s":"IDM CFM","t":5.7,"dt":1.9},{"s":"IDM CFM","t":9,"dt":3.2},{"s":"IDM CFM","t":12.3,"dt":4.3},{"s":"IDM CFM","t":13,"dt":3.9},{"s":"IDM CFM","t":15.7,"dt":3.9},{"s":"IDM CFM","t":16.5,"dt":1.9},{"s":"IDM CFM","t":17,"dt":3.3},{"s":"IDM CFM","t":17.9,"dt":3.6},{"s":"IDM CFM","t":18.7,"dt":2.6},{"s":"IDM CFM","t":19.7,"dt":4.45},{"s":"IDM CFM","t":20.2,"dt":3.8},{"s":"IDM CFM","t":21,"dt":1.9},{"s":"IDM CFM","t":22.1,"dt":3.4},{"s":"IDM CFM","t":22.9,"dt":3.9},{"s":"IDM CFM","t":23.8,"dt":3.25},{"s":"IDM CFM","t":24.4,"dt":2.6},{"s":"IDM CFM","t":25.5,"dt":1.9},{"s":"IDM CFM","t":26.6,"dt":1.9},{"s":"IDM CFM","t":27.8,"dt":2.6},{"s":"IDM CFM","t":28.7,"dt":2.9},{"s":"IDM CFM","t":28.9,"dt":1.6},{"s":"IDM CFM","t":43.3,"dt":0.35},{"s":"IDM CFM","t":43.8,"dt":1.2},{"s":"IDM CFM","t":44.6,"dt":0.7},{"s":"IDM CFM","t":45.7,"dt":0.85},{"s":"IDM CFM","t":46.3,"dt":1.5},{"s":"IDM CFM","t":46.4,"dt":4.3},{"s":"IDM CFM","t":46.6,"dt":1.5},{"s":"IDM CFM","t":47.2,"dt":1.2},{"s":"IDM CFM","t":48.3,"dt":0.2},{"s":"IDM CFM","t":49.1,"dt":-0.2},{"s":"IDM CFM","t":50.6,"dt":-0.5},{"s":"IDM CFM","t":51.7,"dt":0},{"s":"IDM CFM","t":52.6,"dt":1.2},{"s":"IDM CFM","t":53.6,"dt":2.6},{"s":"IDM CFM","t":54.3,"dt":3.25},{"s":"IDM CFM","t":54.8,"dt":6.9},{"s":"IDM CFM","t":55.3,"dt":5.6},{"s":"IDM CFM","t":55.9,"dt":4.6},{"s":"IDM CFM","t":56.3,"dt":8.0},{"s":"IDM CFM","t":56.7,"dt":12.5},{"s":"IDM CFM","t":56.9,"dt":10.1},{"s":"IDM CFM","t":57.2,"dt":13.9},{"s":"IDM CFM","t":57.5,"dt":15.4},{"s":"IDM CFM","t":57.6,"dt":14.5},
{"s":"Krauss CFM","t":0,"dt":1.9},{"s":"Krauss CFM","t":0.45,"dt":5.3},{"s":"Krauss CFM","t":0.8,"dt":8.0},{"s":"Krauss CFM","t":1.0,"dt":4.6},{"s":"Krauss CFM","t":1.4,"dt":5.0},{"s":"Krauss CFM","t":2.1,"dt":4.3},{"s":"Krauss CFM","t":2.4,"dt":6.5},{"s":"Krauss CFM","t":2.7,"dt":3.25},{"s":"Krauss CFM","t":3.5,"dt":3.25},{"s":"Krauss CFM","t":5.7,"dt":1.8},{"s":"Krauss CFM","t":8,"dt":2.9},{"s":"Krauss CFM","t":10.4,"dt":4.1},{"s":"Krauss CFM","t":11.9,"dt":3.25},{"s":"Krauss CFM","t":12.7,"dt":4.1},{"s":"Krauss CFM","t":13.4,"dt":3.25},{"s":"Krauss CFM","t":14.2,"dt":3.9},{"s":"Krauss CFM","t":15.7,"dt":3.6},{"s":"Krauss CFM","t":16.6,"dt":2.4},{"s":"Krauss CFM","t":17.6,"dt":3.25},{"s":"Krauss CFM","t":19.5,"dt":2.9},{"s":"Krauss CFM","t":20.2,"dt":3.25},{"s":"Krauss CFM","t":21,"dt":1.9},{"s":"Krauss CFM","t":22.1,"dt":3.25},{"s":"Krauss CFM","t":23.2,"dt":2.6},{"s":"Krauss CFM","t":25.1,"dt":2.2},{"s":"Krauss CFM","t":25.5,"dt":1.4},{"s":"Krauss CFM","t":26.3,"dt":2.4},{"s":"Krauss CFM","t":28.1,"dt":1.9},{"s":"Krauss CFM","t":28.7,"dt":3.25},{"s":"Krauss CFM","t":28.9,"dt":2.0},{"s":"Krauss CFM","t":43.3,"dt":0.45},{"s":"Krauss CFM","t":43.8,"dt":0.5},{"s":"Krauss CFM","t":45,"dt":-0.1},{"s":"Krauss CFM","t":46,"dt":-0.3},{"s":"Krauss CFM","t":46.8,"dt":0.2},{"s":"Krauss CFM","t":47.2,"dt":1.2},{"s":"Krauss CFM","t":47.6,"dt":0.5},{"s":"Krauss CFM","t":48.3,"dt":0},{"s":"Krauss CFM","t":50.6,"dt":-0.34},{"s":"Krauss CFM","t":51.5,"dt":-0.2},{"s":"Krauss CFM","t":52.5,"dt":-0.2},{"s":"Krauss CFM","t":53.6,"dt":1.4},{"s":"Krauss CFM","t":54.3,"dt":2.2},{"s":"Krauss CFM","t":55.1,"dt":3.25},{"s":"Krauss CFM","t":55.9,"dt":3.9},{"s":"Krauss CFM","t":56.3,"dt":6.0},{"s":"Krauss CFM","t":56.9,"dt":8.4},{"s":"Krauss CFM","t":57.3,"dt":10.4},{"s":"Krauss CFM","t":57.4,"dt":7.3},{"s":"Krauss CFM","t":57.5,"dt":9.5},
{"s":"Wiedemann CFM","t":0,"dt":2.9},{"s":"Wiedemann CFM","t":0.45,"dt":5.3},{"s":"Wiedemann CFM","t":1.0,"dt":7.0},{"s":"Wiedemann CFM","t":1.2,"dt":12.7},{"s":"Wiedemann CFM","t":1.6,"dt":10.8},{"s":"Wiedemann CFM","t":2.1,"dt":10.2},{"s":"Wiedemann CFM","t":2.4,"dt":9.1},{"s":"Wiedemann CFM","t":2.8,"dt":11.3},{"s":"Wiedemann CFM","t":3.1,"dt":9.1},{"s":"Wiedemann CFM","t":5.7,"dt":2.2},{"s":"Wiedemann CFM","t":10,"dt":2.6},{"s":"Wiedemann CFM","t":15.7,"dt":3.25},{"s":"Wiedemann CFM","t":16.3,"dt":1.9},{"s":"Wiedemann CFM","t":17.0,"dt":5.3},{"s":"Wiedemann CFM","t":17.2,"dt":2.6},{"s":"Wiedemann CFM","t":18.2,"dt":3.25},{"s":"Wiedemann CFM","t":18.7,"dt":6.7},{"s":"Wiedemann CFM","t":19.1,"dt":6.0},{"s":"Wiedemann CFM","t":20.2,"dt":5.3},{"s":"Wiedemann CFM","t":20.8,"dt":2.6},{"s":"Wiedemann CFM","t":22.1,"dt":2.7},{"s":"Wiedemann CFM","t":24.4,"dt":2.6},{"s":"Wiedemann CFM","t":24.8,"dt":3.25},{"s":"Wiedemann CFM","t":25.3,"dt":2.3},{"s":"Wiedemann CFM","t":25.9,"dt":3.9},{"s":"Wiedemann CFM","t":27.8,"dt":2.4},{"s":"Wiedemann CFM","t":28.3,"dt":3.6},{"s":"Wiedemann CFM","t":28.7,"dt":2.2},{"s":"Wiedemann CFM","t":28.9,"dt":0.34},{"s":"Wiedemann CFM","t":29.1,"dt":1.95},{"s":"Wiedemann CFM","t":43.5,"dt":0.5},{"s":"Wiedemann CFM","t":43.8,"dt":-2.05},{"s":"Wiedemann CFM","t":44.0,"dt":1.2},{"s":"Wiedemann CFM","t":44.6,"dt":1.0},{"s":"Wiedemann CFM","t":45.7,"dt":2.6},{"s":"Wiedemann CFM","t":46.4,"dt":1.9},{"s":"Wiedemann CFM","t":47.2,"dt":2.4},{"s":"Wiedemann CFM","t":47.9,"dt":1.9},{"s":"Wiedemann CFM","t":48.5,"dt":2.4},{"s":"Wiedemann CFM","t":48.9,"dt":2.7},{"s":"Wiedemann CFM","t":49.3,"dt":0.7},{"s":"Wiedemann CFM","t":50.6,"dt":0.5},{"s":"Wiedemann CFM","t":51.7,"dt":-0.2},{"s":"Wiedemann CFM","t":52.8,"dt":0.5},{"s":"Wiedemann CFM","t":53.9,"dt":1.2},{"s":"Wiedemann CFM","t":55.1,"dt":2.6},{"s":"Wiedemann CFM","t":56.0,"dt":4.6},{"s":"Wiedemann CFM","t":56.7,"dt":8.0},{"s":"Wiedemann CFM","t":57.1,"dt":9.4},{"s":"Wiedemann CFM","t":57.3,"dt":6.0},{"s":"Wiedemann CFM","t":57.5,"dt":7.7},{"s":"Wiedemann CFM","t":57.6,"dt":5.0}
]
},
"title": {"text": "FIGURE 9", "subtitle": ["(A) Resulting speed profiles for scenario 2, (B) resulting acceleration and deceleration profiles for scenario 2, (C) showing the distance to the", "leading agent for scenario 2, (D) showing the difference between the actual TTC and TTCreq defined by the given minimum safety distance to the", "leading agent for scenario 2."], "orient": "bottom", "anchor": "start", "frame": "bounds", "offset": 29, "dx": 25, "font": "Open Sans", "fontSize": 16, "fontWeight": "normal", "color": "#555", "subtitleFont": "Open Sans", "subtitleFontSize": 18.4, "subtitleColor": "#4d4d4d", "subtitleLineHeight": 24, "subtitlePadding": 5},
"columns": 2,
"spacing": {"row": 99, "column": 89},
"bounds": "flush",
"resolve": {"scale": {"color": "independent", "strokeDash": "independent"}, "legend": {"color": "independent", "strokeDash": "independent"}},
"concat": [
  {"width": 562, "height": 293,
   "title": {"text": "A", "anchor": "start", "frame": "group", "dx": -17, "offset": 12, "fontSize": 28, "font": "Liberation Sans", "fontWeight": "bold", "color": "#000"},
   "layer": [
    {"data": {"name": "A"}, "mark": {"type": "line", "strokeWidth": 1.5},
     "encoding": {
      "x": {"field": "t", "type": "quantitative", "scale": {"domain": [0, 57.7], "nice": false, "zero": false}, "axis": {"values": [0,10,20,30,40,50], "title": "t [s]", "titleX": 570, "titleY": -1, "titleAlign": "left", "titleBaseline": "middle", "titleFontSize": 15}},
      "y": {"field": "v", "type": "quantitative", "scale": {"domain": [-0.49, 10.53], "nice": false, "zero": false}, "axis": {"values": [0,2,4,6,8,10], "title": "v [m/s]", "titleX": -13, "titleY": -17, "titleAngle": 0, "titleAlign": "left", "titleBaseline": "middle"}},
      "color": {"field": "s", "type": "nominal", "scale": {"domain": ["Conflict Agent","wiedemann_car","krauss_car","idm_car","Autonomous Agent"], "range": ["#d62728","#1f77b4","#ff7f0e","#2ca02c","#0c3b55"]}, "legend": {"legendX": 83, "legendY": -11}},
      "strokeDash": {"field": "s", "type": "nominal", "scale": {"domain": ["Conflict Agent","wiedemann_car","krauss_car","idm_car","Autonomous Agent"], "range": [[1,0],[5.5,2.4],[5.5,2.4],[5.5,2.4],[1,0]]}, "legend": {"legendX": 83, "legendY": -11}}
     }},
    {"data": {"values": [{}]}, "mark": {"type": "point", "shape": "triangle-up", "filled": true, "size": 30, "color": "#111", "opacity": 1}, "encoding": {"x": {"datum": 0}, "y": {"datum": 10.53}}},
    {"data": {"values": [{}]}, "mark": {"type": "point", "shape": "triangle-right", "filled": true, "size": 30, "color": "#111", "opacity": 1}, "encoding": {"x": {"datum": 57.7}, "y": {"datum": -0.49}}}
   ]},
  {"width": 561, "height": 293,
   "title": {"text": "B", "anchor": "start", "frame": "group", "dx": -25, "offset": 12, "fontSize": 28, "font": "Liberation Sans", "fontWeight": "bold", "color": "#000"},
   "layer": [
    {"data": {"name": "B"}, "mark": {"type": "line", "strokeWidth": 1.5},
     "encoding": {
      "x": {"field": "t", "type": "quantitative", "scale": {"domain": [0, 57.54], "nice": false, "zero": false}, "axis": {"values": [0,10,20,30,40,50], "title": "t [s]", "titleX": 571, "titleY": -1, "titleAlign": "left", "titleBaseline": "middle", "titleFontSize": 15}},
      "y": {"field": "a", "type": "quantitative", "scale": {"domain": [-14.73, 14.57], "nice": false, "zero": false}, "axis": {"values": [-10,-5,0,5,10], "title": "a [m/s^2]", "titleX": -21, "titleY": -16, "titleAngle": 0, "titleAlign": "left", "titleBaseline": "middle"}},
      "color": {"field": "s", "type": "nominal", "scale": {"domain": ["Conflict Agent","wiedemann_car","krauss_car","idm_car","Autonomous Agent"], "range": ["#d62728","#1f77b4","#ff7f0e","#2ca02c","#0c3b55"]}, "legend": {"legendX": 434, "legendY": -11, "labelFontSize": 12.2, "symbolSize": 156, "labelOffset": 22, "rowPadding": 5.2}},
      "strokeDash": {"field": "s", "type": "nominal", "scale": {"domain": ["Conflict Agent","wiedemann_car","krauss_car","idm_car","Autonomous Agent"], "range": [[1,0],[5.5,2.4],[5.5,2.4],[5.5,2.4],[1,0]]}, "legend": {"legendX": 434, "legendY": -11, "labelFontSize": 12.2, "symbolSize": 156, "labelOffset": 22, "rowPadding": 5.2}}
     }},
    {"data": {"values": [{}]}, "mark": {"type": "point", "shape": "triangle-up", "filled": true, "size": 30, "color": "#111", "opacity": 1}, "encoding": {"x": {"datum": 0}, "y": {"datum": 14.57}}},
    {"data": {"values": [{}]}, "mark": {"type": "point", "shape": "triangle-right", "filled": true, "size": 30, "color": "#111", "opacity": 1}, "encoding": {"x": {"datum": 57.54}, "y": {"datum": -14.73}}}
   ]},
  {"width": 558, "height": 293,
   "title": {"text": "C", "anchor": "start", "frame": "group", "dx": -17, "offset": 9, "fontSize": 28, "font": "Liberation Sans", "fontWeight": "bold", "color": "#000"},
   "layer": [
    {"data": {"name": "C"}, "mark": {"type": "line", "strokeWidth": 1.5},
     "encoding": {
      "x": {"field": "t", "type": "quantitative", "scale": {"domain": [-2.93, 60.02], "nice": false, "zero": false}, "axis": {"values": [0,10,20,30,40,50,60], "title": "t [s]", "titleX": 579, "titleY": -3, "titleAlign": "left", "titleBaseline": "middle", "titleFontSize": 15}},
      "y": {"field": "dx", "type": "quantitative", "scale": {"domain": [1.44, 61.7], "nice": false, "zero": false}, "axis": {"values": [10,20,30,40,50,60], "title": "Δx [m]", "titleX": -3, "titleY": -20, "titleAngle": 0, "titleAlign": "left", "titleBaseline": "middle"}},
      "color": {"field": "s", "type": "nominal", "scale": {"domain": ["Autonomous Agent","IDM CFM","Krauss CFM","Wiedemann CFM"], "range": ["#0c3b55","#1f77b4","#ff7f0e","#2ca02c"]}, "legend": {"legendX": 335, "legendY": -1, "labelFontSize": 12.5, "symbolSize": 182, "labelOffset": 23, "rowPadding": 4.8}},
      "strokeDash": {"field": "s", "type": "nominal", "scale": {"domain": ["Autonomous Agent","IDM CFM","Krauss CFM","Wiedemann CFM"], "range": [[1,0],[5.5,2.4],[5.5,2.4],[5.5,2.4]]}, "legend": {"legendX": 335, "legendY": -1, "labelFontSize": 12.5, "symbolSize": 182, "labelOffset": 23, "rowPadding": 4.8}}
     }},
    {"data": {"values": [{}]}, "mark": {"type": "point", "shape": "triangle-up", "filled": true, "size": 30, "color": "#111", "opacity": 1}, "encoding": {"x": {"datum": -2.93}, "y": {"datum": 61.7}}},
    {"data": {"values": [{}]}, "mark": {"type": "point", "shape": "triangle-right", "filled": true, "size": 30, "color": "#111", "opacity": 1}, "encoding": {"x": {"datum": 60.02}, "y": {"datum": 1.44}}}
   ]},
  {"width": 561, "height": 293,
   "title": {"text": "D", "anchor": "start", "frame": "group", "dx": -25, "offset": 9, "fontSize": 28, "font": "Liberation Sans", "fontWeight": "bold", "color": "#000"},
   "layer": [
    {"data": {"name": "D"}, "mark": {"type": "line", "strokeWidth": 1.5},
     "encoding": {
      "x": {"field": "t", "type": "quantitative", "scale": {"domain": [-2.82, 60.43], "nice": false, "zero": false}, "axis": {"values": [0,10,20,30,40,50,60], "title": "t [s]", "titleX": 568, "titleY": -3, "titleAlign": "left", "titleBaseline": "middle", "titleFontSize": 15}},
      "y": {"field": "dt", "type": "quantitative", "scale": {"domain": [-11.34, 18.8], "nice": false, "zero": false}, "axis": {"values": [-10,-5,0,5,10,15], "title": "Δt [s]", "titleX": -13, "titleY": -18, "titleAngle": 0, "titleAlign": "left", "titleBaseline": "middle"}},
      "color": {"field": "s", "type": "nominal", "scale": {"domain": ["Autonomous Agent","IDM CFM","Krauss CFM","Wiedemann CFM"], "range": ["#0c3b55","#1f77b4","#ff7f0e","#2ca02c"]}, "legend": {"legendX": 353, "legendY": -1, "labelFontSize": 12.5, "symbolSize": 182, "labelOffset": 23, "rowPadding": 4.8}},
      "strokeDash": {"field": "s", "type": "nominal", "scale": {"domain": ["Autonomous Agent","IDM CFM","Krauss CFM","Wiedemann CFM"], "range": [[1,0],[5.5,2.4],[5.5,2.4],[5.5,2.4]]}, "legend": {"legendX": 353, "legendY": -1, "labelFontSize": 12.5, "symbolSize": 182, "labelOffset": 23, "rowPadding": 4.8}}
     }},
    {"data": {"values": [{}]}, "mark": {"type": "point", "shape": "triangle-up", "filled": true, "size": 30, "color": "#111", "opacity": 1}, "encoding": {"x": {"datum": -2.82}, "y": {"datum": 18.8}}},
    {"data": {"values": [{}]}, "mark": {"type": "point", "shape": "triangle-right", "filled": true, "size": 30, "color": "#111", "opacity": 1}, "encoding": {"x": {"datum": 60.43}, "y": {"datum": -11.34}}}
   ]}
]
}
